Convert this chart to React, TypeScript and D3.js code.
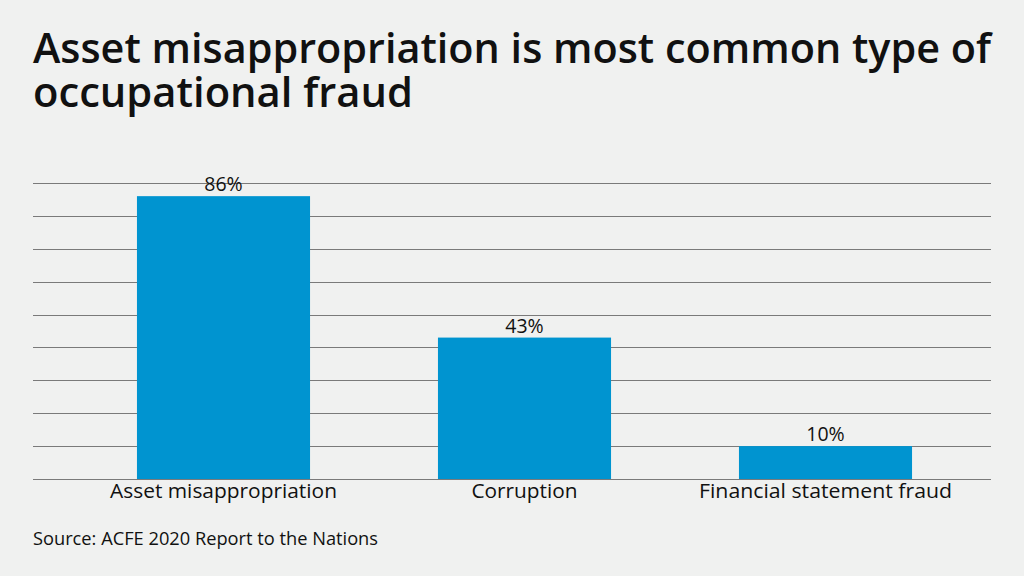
import React from "react";
import * as d3 from "d3";

const categories = ["Asset misappropriation", "Corruption", "Financial statement fraud"];
const values = [86, 43, 10];
const valueLabels = ["86%", "43%", "10%"];
const gridTicks = [0, 10, 20, 30, 40, 50, 60, 70, 80, 90];
const titleLines = ["Asset misappropriation is most common type of", "occupational fraud"];
const sourceText = "Source: ACFE 2020 Report to the Nations";

const W = 1024;
const H = 576;
const FONT = "'Open Sans', Lato, sans-serif";
// rendered widths used to match the reference's wider geometric typeface
const labelWidths = [227, 106, 253];

export default function App() {
  const x = d3
    .scaleBand<string>()
    .domain(categories)
    .range([73, 976])
    .paddingInner(0.425)
    .paddingOuter(0.2125);
  const y = d3.scaleLinear().domain([0, 90]).range([479, 183]);

  return (
    <div style={{ position: "absolute", left: 0, top: 0, width: W, height: H }}>
      <svg width={W} height={H} style={{ display: "block", background: "#f0f1f0" }}>
        <rect x={0} y={0} width={W} height={H} fill="#f0f1f0" />
        <text
          x={33}
          y={63}
          fontFamily={FONT}
          fontWeight={600}
          fontSize={41}
          fill="#111"
          textLength={958}
          lengthAdjust="spacingAndGlyphs"
        >
          {titleLines[0]}
        </text>
        <text
          x={33}
          y={107}
          fontFamily={FONT}
          fontWeight={600}
          fontSize={41}
          fill="#111"
          textLength={380}
          lengthAdjust="spacingAndGlyphs"
        >
          {titleLines[1]}
        </text>
        {gridTicks.map((t) => (
          <line
            key={t}
            x1={33}
            x2={991}
            y1={Math.round(y(t)) + 0.5}
            y2={Math.round(y(t)) + 0.5}
            stroke="#7a7a7a"
            strokeWidth={1}
          />
        ))}
        {categories.map((c, i) => (
          <rect
            key={c}
            x={x(c)}
            y={y(values[i])}
            width={x.bandwidth()}
            height={y(0) - y(values[i])}
            fill="#0094d0"
          />
        ))}
        {categories.map((c, i) => (
          <text
            key={"v" + c}
            x={(x(c) as number) + x.bandwidth() / 2}
            y={y(values[i]) - 5}
            textAnchor="middle"
            fontFamily={FONT}
            fontSize={19.5}
            fill="#111"
          >
            {valueLabels[i]}
          </text>
        ))}
        {categories.map((c, i) => (
          <text
            key={"c" + c}
            x={(x(c) as number) + x.bandwidth() / 2}
            y={498}
            textAnchor="middle"
            fontFamily={FONT}
            fontSize={20}
            fill="#111"
            textLength={labelWidths[i]}
            lengthAdjust="spacingAndGlyphs"
          >
            {c}
          </text>
        ))}
        <text
          x={33}
          y={545}
          fontFamily={FONT}
          fontSize={17.5}
          fill="#111"
          textLength={345}
          lengthAdjust="spacingAndGlyphs"
        >
          {sourceText}
        </text>
      </svg>
    </div>
  );
}
